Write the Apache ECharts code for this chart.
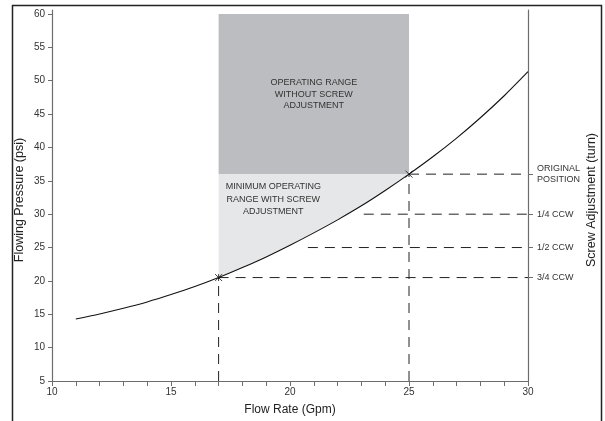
<!DOCTYPE html>
<html>
<head>
<meta charset="utf-8">
<script src="https://cdn.jsdelivr.net/npm/echarts@6/dist/echarts.min.js"></script>
<style>
html,body{margin:0;padding:0;background:#fff;}
#c{width:605px;height:421px;}
</style>
</head>
<body>
<div id="c"></div>
<script>
// Flow rate (Gpm) vs flowing pressure (psi)
var curveX = [11, 12, 13, 14, 15, 16, 17, 18, 19, 20, 21, 22, 23, 24, 25, 26, 27, 28, 29, 30];
var curveY = [14.3, 15.05, 15.9, 16.85, 17.95, 19.15, 20.5, 22.0, 23.6, 25.35, 27.2, 29.15, 31.25, 33.55, 36.0, 38.6, 41.4, 44.45, 47.75, 51.35];

var flowMin = 17, flowMax = 25;          // operating range flow limits
var pressLow = 20.5, pressHigh = 36, pressTop = 60;
var xTickLabels = [10, 15, 20, 25, 30];
var yTickValues = [5, 10, 15, 20, 25, 30, 35, 40, 45, 50, 55, 60];
var screwValues = [36, 30, 25, 20.5];
var screwLabels = ['ORIGINAL\nPOSITION', '1/4 CCW', '1/2 CCW', '3/4 CCW'];
var screwLineStart = [25, 23.1, 20.75, 17];
var rangeText = 'OPERATING RANGE\nWITHOUT SCREW\nADJUSTMENT';
var minRangeText = 'MINIMUM OPERATING\nRANGE WITH SCREW\nADJUSTMENT';
var minRangeTextPos = [19.3, 32.2];

var FONT = '"Liberation Sans", Arial, sans-serif';
var curveData = curveX.map(function (x, i) { return [x, curveY[i]]; });

// light region polygon: along curve from flowMin to flowMax then up to pressHigh and back
var lightPoly = [];
curveData.forEach(function (p) { if (p[0] >= flowMin && p[0] <= flowMax) lightPoly.push(p); });
lightPoly.push([flowMin, pressHigh]);

var dash = [10, 7];
var dashSeries = [];
function addDash(data) {
  dashSeries.push({
    type: 'line', data: data, symbol: 'none', silent: true, z: 3,
    lineStyle: { color: '#222', width: 1, type: dash }
  });
}
addDash([[flowMin, 5], [flowMin, pressLow]]);
addDash([[flowMax, 5], [flowMax, pressHigh]]);
screwValues.forEach(function (v, i) {
  addDash([[screwLineStart[i], v], [30, v]]);
});

var chart = echarts.init(document.getElementById('c'), null, { renderer: 'canvas' });
var axisColor = '#6d6d6d';
var option = {
  animation: false,
  textStyle: { fontFamily: FONT },
  grid: { left: 52, right: 77, top: 10, bottom: 40 },
  xAxis: {
    type: 'value', min: 10, max: 30, interval: 5,
    axisLine: { lineStyle: { color: axisColor, width: 1.2 } },
    axisTick: { inside: false, length: 5, lineStyle: { color: axisColor } },
    minorTick: { show: true, splitNumber: 5, length: 5, lineStyle: { color: axisColor } },
    axisLabel: { color: '#333', fontSize: 10, margin: 6, fontFamily: FONT,
      formatter: function (v) { return xTickLabels.indexOf(v) >= 0 ? String(v) : ''; } },
    splitLine: { show: false }
  },
  yAxis: [{
    type: 'value', min: 5, max: 60.6, position: 'left',
    axisLine: { show: true, lineStyle: { color: axisColor, width: 1.2 } },
    axisTick: { show: true, inside: false, length: 4, customValues: yTickValues, lineStyle: { color: axisColor } },
    axisLabel: { color: '#333', fontSize: 10, margin: 7, customValues: yTickValues, fontFamily: FONT },
    splitLine: { show: false }
  }, {
    type: 'value', min: 5, max: 60.6, position: 'right',
    axisLine: { show: true, lineStyle: { color: axisColor, width: 1.2 } },
    axisTick: { show: true, inside: false, length: 5, customValues: screwValues, lineStyle: { color: axisColor } },
    axisLabel: { color: '#333', fontSize: 9, margin: 9, align: 'left', lineHeight: 11,
      customValues: screwValues, fontFamily: FONT,
      formatter: function (v) {
        for (var i = 0; i < screwValues.length; i++) if (Math.abs(screwValues[i] - v) < 1e-6) return screwLabels[i];
        return '';
      } },
    splitLine: { show: false }
  }],
  series: [{
    type: 'custom', silent: true, z: 1,
    data: [[flowMin, pressHigh, flowMax, pressTop]],
    renderItem: function (params, api) {
      var p1 = api.coord([api.value(0), api.value(1)]);
      var p2 = api.coord([api.value(2), api.value(3)]);
      var c = api.coord([(api.value(0) + api.value(2)) / 2, (api.value(1) + api.value(3)) / 2]);
      var poly = lightPoly.map(function (p) { return api.coord(p); });
      var tp = api.coord(minRangeTextPos);
      return {
        type: 'group', children: [
          { type: 'rect', shape: { x: p1[0], y: p2[1], width: p2[0] - p1[0], height: p1[1] - p2[1] },
            style: { fill: '#bcbdc0' } },
          { type: 'polygon', shape: { points: poly }, style: { fill: '#e6e7e8' } },
          { type: 'text', x: c[0], y: c[1], style: { text: rangeText, fill: '#333', font: '9px ' + FONT,
            align: 'center', verticalAlign: 'middle', lineHeight: 11.5 } },
          { type: 'text', x: tp[0], y: tp[1], style: { text: minRangeText, fill: '#333', font: '9px ' + FONT,
            align: 'center', verticalAlign: 'middle', lineHeight: 12.5 } }
        ]
      };
    }
  }, {
    type: 'line', data: curveData, smooth: 0.3, symbol: 'none', silent: true, z: 4,
    lineStyle: { color: '#111', width: 1.1 }
  }, {
    type: 'scatter', silent: true, z: 5,
    data: [[flowMin, pressLow]],
    symbol: 'path://M0,0L10,10M10,0L0,10M5,0L5,10', symbolSize: 7,
    itemStyle: { color: 'none', borderColor: '#111', borderWidth: 1 }
  }, {
    type: 'scatter', silent: true, z: 5,
    data: [[flowMax, pressHigh]],
    symbol: 'path://M0,0L10,10M10,0L0,10', symbolSize: 7,
    itemStyle: { color: 'none', borderColor: '#111', borderWidth: 1 }
  }].concat(dashSeries),
  graphic: [
    { type: 'rect', shape: { x: 12.5, y: 5.5, width: 589, height: 440 },
      style: { fill: 'none', stroke: '#222', lineWidth: 1.5 }, silent: true },
    { type: 'text', x: 20, y: 200, rotation: Math.PI / 2,
      style: { text: 'Flowing Pressure (psi)', font: '12.5px ' + FONT, fill: '#222', align: 'center', verticalAlign: 'middle' } },
    { type: 'text', x: 592, y: 200, rotation: Math.PI / 2,
      style: { text: 'Screw Adjustment (turn)', font: '12.5px ' + FONT, fill: '#222', align: 'center', verticalAlign: 'middle' } },
    { type: 'text', x: 290, y: 410,
      style: { text: 'Flow Rate (Gpm)', font: '12px ' + FONT, fill: '#222', align: 'center', verticalAlign: 'middle' } }
  ]
};
chart.setOption(option);
</script>
</body>
</html>
